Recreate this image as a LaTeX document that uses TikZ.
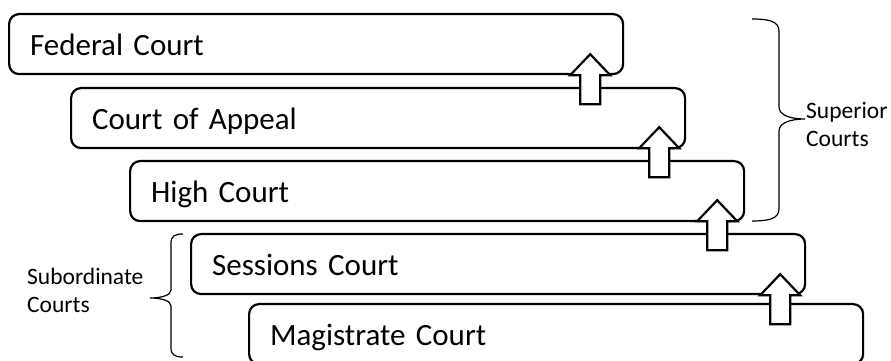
\documentclass[tikz,border=0pt]{standalone}
\usepackage{fontspec}
\setmainfont{Carlito}
\usetikzlibrary{calc}
\begin{document}
\begin{tikzpicture}[x=1pt,y=1pt,
 court/.style={draw, line width=2.2pt, rounded corners=10pt, anchor=north west,
   minimum width=614pt, minimum height=60pt, inner xsep=21pt, inner ysep=0pt,
   text width=572pt, align=left, text height=25pt, text depth=2pt,
   font=\fontsize{31}{37}\selectfont},
 blockarrow/.style={draw, fill=white, line width=2.2pt, line join=miter},
 bracestyle/.style={draw, line width=1.2pt},
 sidelabel/.style={align=left, inner sep=0pt, anchor=west,
   font=\fontsize{23.5}{28}\selectfont},
 uparrow/.pic={\path[blockarrow] (0,0) -- (20,-21) -- (10,-21) -- (10,-50)
   -- (-10,-50) -- (-10,-21) -- (-20,-21) -- cycle;}]
\useasboundingbox (0,0) rectangle (891,361);

\node[court] (b1) at (8,348) {Federal Court};
\node[court] (b2) at (70,274) {Court of Appeal};
\node[court] (b3) at (129,201) {High Court};
\node[court] (b4) at (190,128) {Sessions Court};
\node[court] (b5) at (248,58) {Magistrate Court};

\pic at ($(b1.south east)+(-34,21)$) {uparrow};
\pic at ($(b2.south east)+(-27,22)$) {uparrow};
\pic at ($(b3.south east)+(-28,22)$) {uparrow};
\pic at ($(b4.south east)+(-26,21)$) {uparrow};

% Superior brace
\path[bracestyle] (752,342) .. controls (768,342) and (779,340) .. (779,330)
  -- (779,254) .. controls (779,246) and (790,242) .. (805,242)
  .. controls (790,242) and (779,238) .. (779,230)
  -- (779,152) .. controls (779,142) and (768,140) .. (752,140);
\node[sidelabel] (sup) at (806,236) {Superior\\Courts};

% Subordinate brace
\path[bracestyle] (183,127) .. controls (175,127) and (171,125) .. (171,118)
  -- (171,71) .. controls (171,66) and (162,63) .. (150,63)
  .. controls (162,63) and (171,60) .. (171,55)
  -- (171,13) .. controls (171,6) and (175,4) .. (183,4);
\node[sidelabel] (sub) at (27,71) {Subordinate\\Courts};
\end{tikzpicture}
\end{document}
